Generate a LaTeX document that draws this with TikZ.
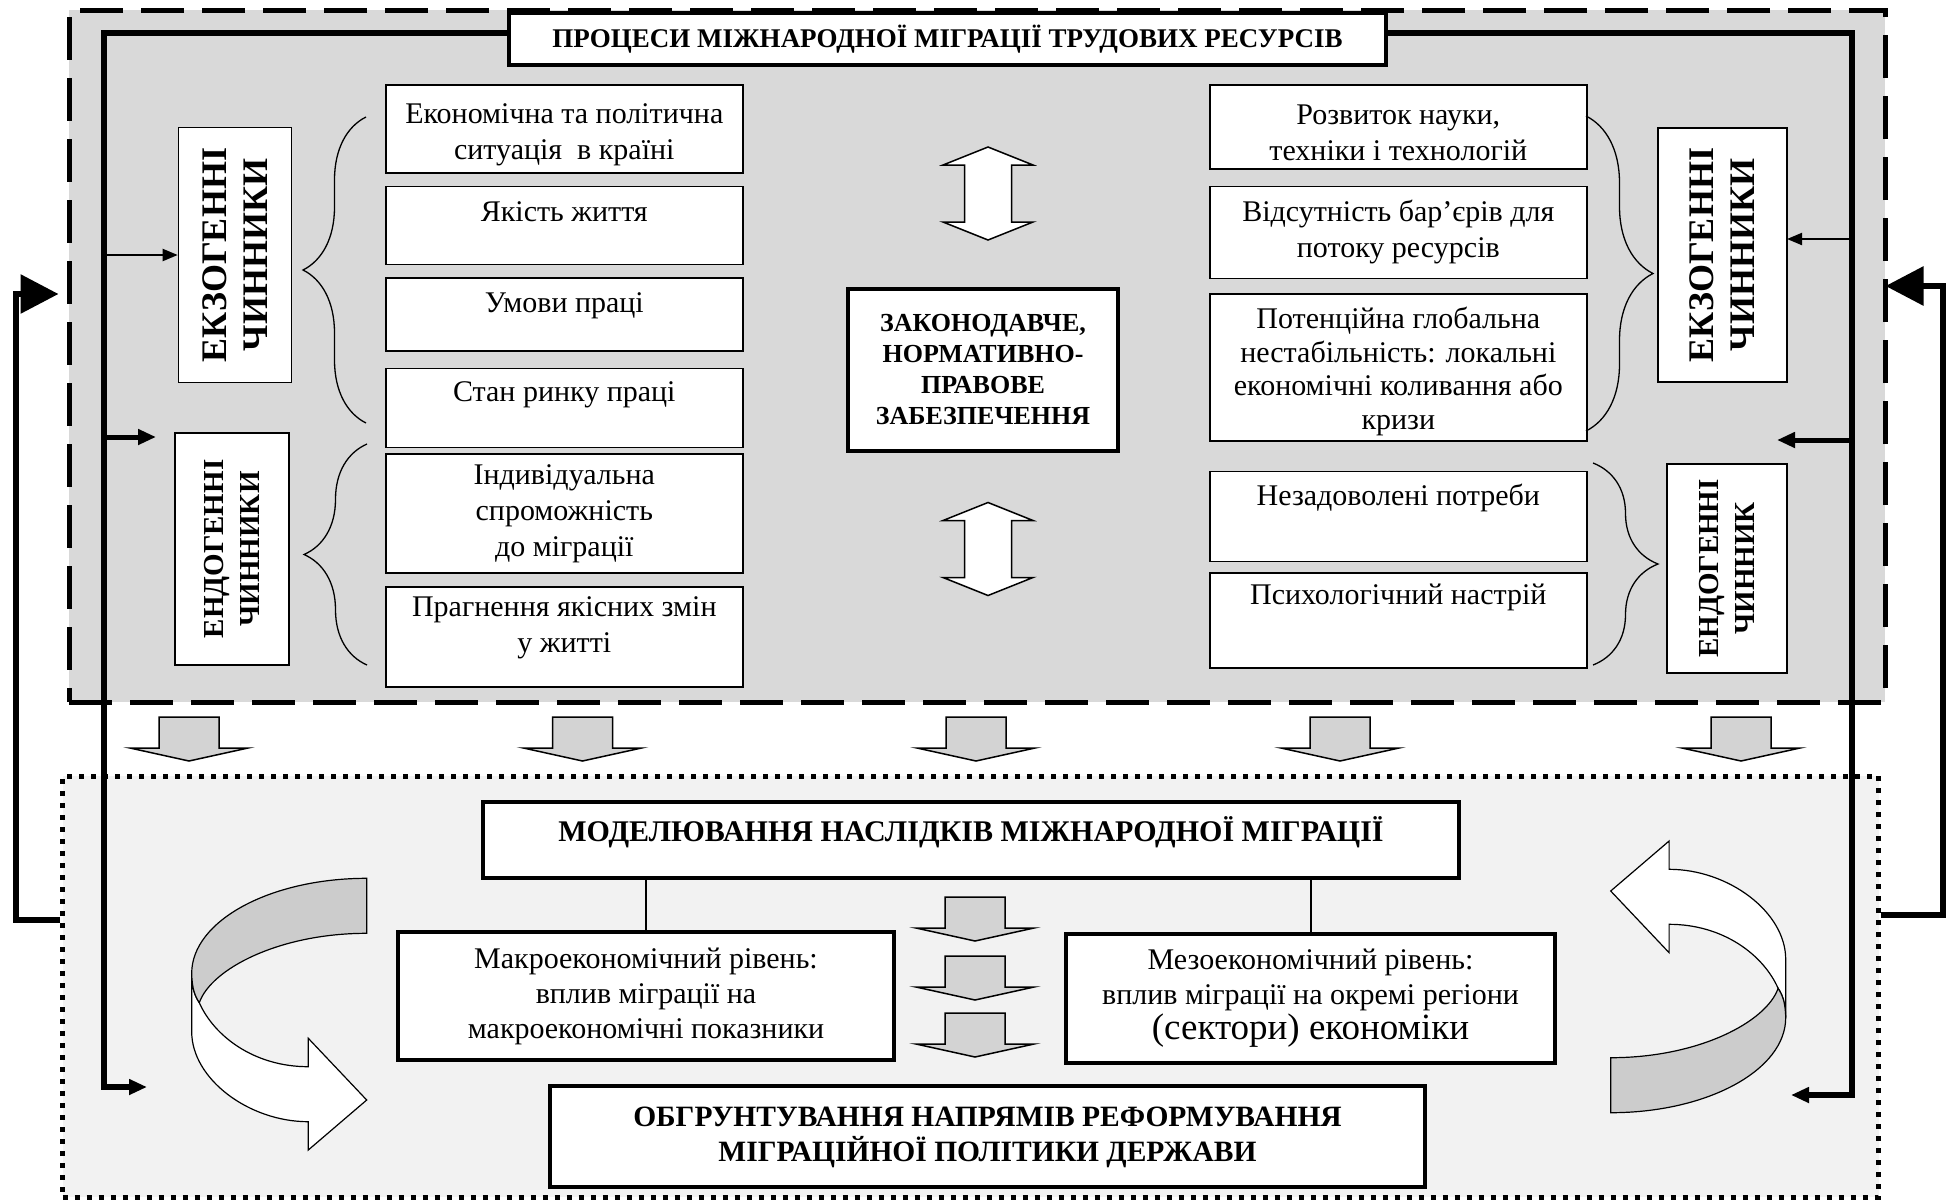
\documentclass[tikz,border=0pt]{standalone}
\usepackage{fontspec}
\setmainfont{Liberation Serif}
\usetikzlibrary{arrows.meta, positioning, decorations.pathreplacing}

\definecolor{topgray}{HTML}{D9D9D9}
\definecolor{lowgray}{HTML}{F2F2F2}
\definecolor{arrgray}{HTML}{D3D3D3}
\definecolor{curvegray}{HTML}{CCCCCC}

\begin{document}
\begin{tikzpicture}[
  x=1pt, y=-1pt,
  factor/.style={draw, fill=white, line width=1.6pt, align=center, inner sep=0pt, font=\fontsize{30}{36}\selectfont},
  lift/.style={text height=21pt, text depth=#1},
  sidebox/.style={draw, fill=white, line width=1.6pt, rotate=90, align=center, inner sep=0pt, font=\bfseries\fontsize{36}{41}\selectfont},
  sidesmall/.style={sidebox, font=\bfseries\fontsize{29}{36}\selectfont},
  headbox/.style={draw, fill=white, line width=4pt, align=center, inner sep=0pt, font=\bfseries\fontsize{29.5}{35}\selectfont},
  effectbox/.style={draw, fill=white, line width=3.5pt, align=center, inner sep=0pt, font=\fontsize{30}{35}\selectfont},
  frameline/.style={line width=5.5pt, -{Triangle[length=18pt, width=15pt]}},
  thinarr/.style={line width=2pt, -{Triangle[length=15pt, width=12pt]}},
  thickarr/.style={line width=5pt, -{Triangle[length=18pt, width=15pt]}},
  feedback/.style={line width=6pt, -{Triangle[length=38pt, width=38pt]}},
  fbrace/.style={decorate, decoration={brace, amplitude=#1}, line width=1.3pt},
  downblk/.pic={\draw[line width=1.5pt, fill=arrgray] (-30,0) -- (-30,31) -- (-59,31) -- (0,44) -- (59,31) -- (30,31) -- (30,0) -- cycle;},
  updown/.pic={\draw[line width=1.5pt, fill=white] (0,-46.5) -- (45,-28.5) -- (23.5,-28.5) -- (23.5,28.5) -- (45,28.5) -- (0,46.5) -- (-45,28.5) -- (-23.5,28.5) -- (-23.5,-28.5) -- (-45,-28.5) -- cycle;},
  curved/.pic={
    \draw[line width=1.2pt, fill=white] (-87.3,-40.7) -- (-87.3,17.7) .. controls (-87.3,65) and (-30,107.7) .. (29.3,107.7) -- (29.3,136) -- (87.7,86) -- (29.3,24.3) -- (29.3,52.7) .. controls (-25,52.7) and (-65,22) .. (-79.7,-11.3) .. controls (-84,-18) and (-87,-25) .. (-87.3,-40.7) -- cycle;
    \draw[line width=1.2pt, fill=curvegray] (87.7,-135.7) .. controls (-8.9,-135.7) and (-87.3,-93.1) .. (-87.3,-40.7) .. controls (-87,-25) and (-84,-18) .. (-79.7,-11.3) .. controls (-68,-45) and (0,-80.7) .. (87.7,-80.7) -- cycle;
  }
]
\useasboundingbox (0,0) rectangle (1955,1200);

\node[draw, fill=topgray, line width=5pt, dash pattern=on 43pt off 18pt, minimum width=1816pt, minimum height=692pt, inner sep=0pt] (upper) at (977,356) {};
\node[draw, fill=lowgray, line width=5pt, dash pattern=on 5pt off 7pt, minimum width=1816pt, minimum height=421pt, inner sep=0pt] (lower) at (970.5,986.5) {};

\pic at (189,717) {downblk};
\pic at (582.5,717) {downblk};
\pic at (976,717) {downblk};
\pic at (1340,717) {downblk};
\pic at (1741,717) {downblk};

\node[headbox, minimum width=877pt, minimum height=52pt, font=\bfseries\fontsize{27}{33}\selectfont] (header) at (947.5,39) {ПРОЦЕСИ МІЖНАРОДНОЇ МІГРАЦІЇ ТРУДОВИХ РЕСУРСІВ};

\node[factor, text height=67pt, minimum width=357pt, minimum height=88pt, anchor=north west] (econ) at (385,84) {Економічна та політична\\ситуація~ в країні};
\node[factor, lift=28pt, minimum width=357pt, minimum height=78pt, below=12pt of econ] (life) {Якість життя};
\node[factor, lift=26pt, minimum width=357pt, minimum height=73pt, below=12pt of life] (work) {Умови праці};
\node[factor, lift=35pt, minimum width=357pt, minimum height=79pt, below=16pt of work] (market) {Стан ринку праці};
\node[factor, minimum width=357pt, minimum height=119pt, below=5pt of market] (ability) {Індивідуальна\\спроможність\\до міграції};
\node[factor, text depth=25pt, minimum width=357pt, minimum height=100pt, below=12pt of ability] (change) {Прагнення якісних змін\\у житті};

\node[factor, text height=67pt, minimum width=377pt, minimum height=84pt, anchor=north west] (science) at (1209,84) {Розвиток науки,\\техніки і технологій};
\node[factor, minimum width=377pt, minimum height=92pt, below=16pt of science] (barrier) {Відсутність бар’єрів для\\потоку ресурсів};
\node[factor, text height=123pt, text depth=0pt, minimum width=377pt, minimum height=147pt, below=14pt of barrier, font=\fontsize{30}{33.5}\selectfont] (crisis) {Потенційна глобальна\\нестабільність: локальні\\економічні коливання або\\кризи};
\node[factor, lift=44pt, minimum width=377pt, minimum height=90pt, below=29pt of crisis] (unmet) {Незадоволені потреби};
\node[factor, lift=53pt, minimum width=377pt, minimum height=95pt, below=10pt of unmet] (mood) {Психологічний настрій};

\node[sidebox, minimum width=255pt, minimum height=113pt] (exoL) at (235,255) {ЕКЗОГЕННІ\\ЧИННИКИ};
\node[sidesmall, minimum width=232pt, minimum height=114pt] (endoL) at (232,549) {ЕНДОГЕННІ\\ЧИННИКИ};
\node[sidebox, minimum width=254pt, minimum height=129pt] (exoR) at (1722.5,255) {ЕКЗОГЕННІ\\ЧИННИКИ};
\node[sidesmall, minimum width=209pt, minimum height=120pt] (endoR) at (1727,568.5) {ЕНДОГЕННІ\\ЧИННИК};

\draw[fbrace=63pt] (366,423) -- (366,117);
\draw[fbrace=63pt] (367,665) -- (367,444);
\draw[fbrace=67pt] (1586,116) -- (1586,431);
\draw[fbrace=65pt] (1593,463) -- (1593,665);

\node[draw, fill=white, line width=4pt, align=center, inner sep=0pt, minimum width=270pt, minimum height=162pt, font=\bfseries\fontsize{26}{31}\selectfont] (law) at (983,370) {ЗАКОНОДАВЧЕ,\\НОРМАТИВНО-\\ПРАВОВЕ\\ЗАБЕЗПЕЧЕННЯ};
\pic at (988,193.5) {updown};
\pic at (988,549) {updown};

\node[headbox, text height=20pt, text depth=18pt, minimum width=976pt, minimum height=76pt, font=\bfseries\fontsize{30}{35}\selectfont] (model) at (971,840) {МОДЕЛЮВАННЯ НАСЛІДКІВ МІЖНАРОДНОЇ МІГРАЦІЇ};
\node[effectbox, minimum width=496pt, minimum height=128pt] (macro) at (646,996) {Макроекономічний рівень:\\вплив міграції на\\макроекономічні показники};
\node[effectbox, minimum width=489pt, minimum height=129pt] (mezo) at (1310.5,998.5) {Мезоекономічний рівень:\\вплив міграції на окремі регіони\\{\fontsize{37}{40}\selectfont (сектори) економіки}};
\node[headbox, text height=56pt, minimum width=875pt, minimum height=101pt] (policy) at (987.5,1136.5) {ОБГРУНТУВАННЯ НАПРЯМІВ РЕФОРМУВАННЯ\\МІГРАЦІЙНОЇ ПОЛІТИКИ ДЕРЖАВИ};

\draw[line width=2pt] (model.south -| macro.north) -- (macro.north);
\draw[line width=2pt] (model.south -| mezo.north) -- (mezo.north);

\pic at (975,897) {downblk};
\pic at (975,956) {downblk};
\pic at (975,1013) {downblk};

\pic at (279,1014) {curved};
\pic[rotate=180] at (1698.4,977) {curved};

\coordinate (flTop) at (104,33);
\coordinate (flEnd) at (147,1087);
\coordinate (endoInL) at (156,437);
\draw[frameline] (header.west |- flTop) -- (flTop) |- (flEnd);
\draw[thinarr] (flTop |- exoL.north) -- (exoL.north);
\draw[thickarr] (flTop |- endoInL) -- (endoInL);

\coordinate (frTop) at (1852,33);
\coordinate (frEnd) at (1791,1095);
\coordinate (exoInR) at (1787,239);
\coordinate (endoInR) at (1777,440);
\draw[frameline] (header.east |- frTop) -- (frTop) |- (frEnd);
\draw[thinarr] (frTop |- exoInR) -- (exoInR);
\draw[thickarr] (frTop |- endoInR) -- (endoInR);

\coordinate (fbL1) at (16,920);
\coordinate (fbL2) at (16,294);
\draw[feedback, shorten >=8pt] (lower.west |- fbL1) -- (fbL1) -- (fbL2) -- (upper.west |- fbL2);
\coordinate (fbR1) at (1943,915);
\coordinate (fbR2) at (1943,286);
\draw[feedback, shorten >=-2pt] (lower.east |- fbR1) -- (fbR1) -- (fbR2) -- (upper.east |- fbR2);
\end{tikzpicture}
\end{document}
